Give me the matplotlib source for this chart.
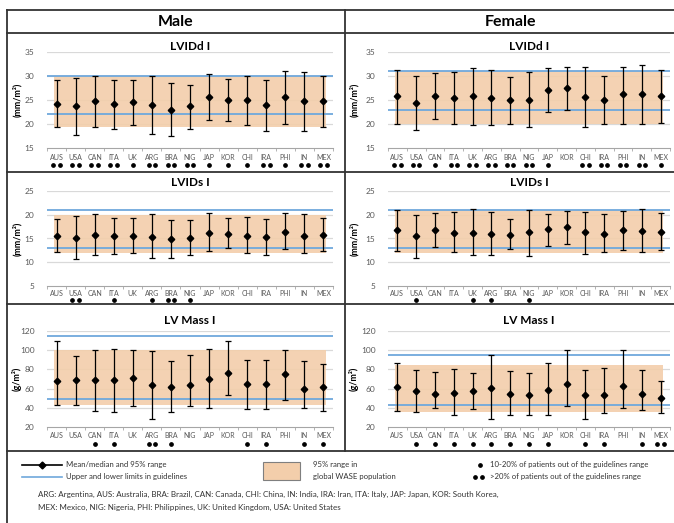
import numpy as np
import matplotlib.pyplot as plt
from matplotlib.lines import Line2D
from matplotlib.patches import Rectangle
import matplotlib.transforms as mtransforms

plt.rcParams['font.family'] = ['Lato', 'DejaVu Sans']

countries = ['AUS', 'USA', 'CAN', 'ITA', 'UK', 'ARG', 'BRA', 'NIG', 'JAP',
             'KOR', 'CHI', 'IRA', 'PHI', 'IN', 'MEX']

# Male LVIDd I (mm/m2)
m_lvidd_mean = [24.2, 23.7, 24.7, 24.2, 24.5, 24.0, 22.9, 23.7, 25.7, 25.1, 25.0, 24.0, 25.6, 24.7, 24.7]
m_lvidd_lo = [19.3, 17.7, 19.3, 19.0, 19.8, 17.9, 17.6, 19.0, 20.8, 20.6, 19.8, 18.6, 19.9, 18.6, 19.3]
m_lvidd_hi = [29.1, 29.6, 29.9, 29.2, 29.2, 29.9, 28.5, 28.2, 30.5, 29.4, 29.9, 29.1, 31.1, 30.8, 29.9]
m_lvidd_stars = [2, 2, 2, 2, 1, 2, 2, 2, 1, 1, 1, 2, 1, 2, 2]

# Female LVIDd I
f_lvidd_mean = [25.8, 24.3, 25.8, 25.5, 25.8, 25.5, 24.9, 25.1, 27.0, 27.5, 25.6, 25.1, 26.2, 26.2, 25.8]
f_lvidd_lo = [20.1, 18.8, 21.0, 19.9, 19.8, 19.7, 19.9, 19.3, 22.6, 22.9, 19.3, 20.1, 20.1, 19.9, 20.3]
f_lvidd_hi = [31.2, 29.9, 30.7, 30.9, 31.7, 31.2, 29.7, 30.9, 31.6, 31.9, 31.9, 30.0, 31.9, 32.2, 31.2]
f_lvidd_stars = [2, 2, 1, 2, 2, 2, 2, 2, 1, 0, 2, 2, 2, 2, 1]

# Male LVIDs I
m_lvids_mean = [15.6, 15.1, 15.8, 15.6, 15.6, 15.3, 14.9, 15.1, 16.2, 16.0, 15.6, 15.3, 16.4, 15.5, 15.8]
m_lvids_lo = [12.1, 10.6, 11.6, 11.8, 12.0, 10.8, 10.9, 11.6, 12.3, 13.0, 12.0, 11.6, 12.8, 12.0, 12.3]
m_lvids_hi = [19.2, 19.8, 20.1, 19.4, 19.4, 20.1, 18.9, 18.9, 20.4, 19.4, 19.6, 19.2, 20.4, 20.1, 19.4]
m_lvids_stars = [0, 2, 0, 1, 0, 1, 2, 1, 0, 0, 0, 0, 0, 0, 0]

# Female LVIDs I
f_lvids_mean = [16.7, 15.5, 16.7, 16.2, 16.2, 16.0, 15.8, 16.3, 16.9, 17.4, 16.3, 16.0, 16.7, 16.5, 16.4]
f_lvids_lo = [12.3, 10.9, 13.2, 12.2, 11.6, 11.6, 12.7, 11.3, 13.5, 13.9, 11.8, 12.1, 12.5, 12.1, 12.5]
f_lvids_hi = [21.0, 20.0, 20.3, 20.5, 21.2, 20.5, 19.0, 21.0, 20.2, 20.7, 20.5, 20.2, 20.7, 21.3, 20.3]
f_lvids_stars = [0, 1, 0, 0, 1, 1, 0, 1, 0, 0, 0, 0, 0, 0, 0]

# Male LV Mass I (g/m2)
m_mass_mean = [68, 69, 69, 69, 71.4, 63.8, 62, 63.8, 70, 76.6, 64.5, 64.5, 74.8, 59.7, 61.4]
m_mass_lo = [43, 43, 37, 36, 42, 28.3, 36, 42, 40, 53, 38.6, 38.6, 48.3, 40, 37]
m_mass_hi = [109.3, 94, 100, 101.7, 100, 99.3, 89, 95.5, 101.7, 109.7, 89.7, 90.3, 100, 89, 85.2]
m_mass_stars = [0, 0, 1, 1, 0, 2, 1, 0, 0, 0, 1, 1, 0, 1, 1]

# Female LV Mass I
f_mass_mean = [61.4, 57, 54.1, 55.2, 57.6, 60.3, 54.5, 53.4, 58.6, 64.8, 53.4, 53.1, 62.8, 54.5, 50.7]
f_mass_lo = [37, 35.2, 40.3, 32, 38.6, 28.3, 32.8, 32.8, 32, 41.4, 28.3, 34.5, 40.3, 38, 34.5]
f_mass_hi = [86.2, 79.3, 77.6, 80, 75.9, 94.5, 77.9, 75.9, 86.2, 100.7, 79.3, 81.7, 100, 79.3, 68]
f_mass_stars = [0, 1, 1, 1, 1, 1, 1, 1, 1, 0, 1, 1, 0, 1, 2]

# guideline limits and 95% WASE range (lo, hi)
m_lvidd_guide, m_lvidd_band = [22, 30], [19.3, 30]
f_lvidd_guide, f_lvidd_band = [23, 31], [20, 31]
m_lvids_guide, m_lvids_band = [13, 21], [12, 20]
f_lvids_guide, f_lvids_band = [13, 21], [12, 21]
m_mass_guide, m_mass_band = [49, 115], [43, 100]
f_mass_guide, f_mass_band = [43, 95], [36, 85]

W, H = 674, 523
BAND = '#F3CEAB'
BLUE = '#6FA8DC'
GREY = '#595959'


def fx(x):
    return x / W


def fy(y):
    return 1 - y / H


fig = plt.figure(figsize=(W / 100, H / 100), dpi=100)


def panel(x0, x1, ytop, ybot, yticks, mean, lo, hi, stars, guide, band,
          title, ylab, lab_y, star_y, title_y, ylab_x):
    ax = fig.add_axes([fx(x0), fy(ybot), fx(x1) - fx(x0), fy(ytop) - fy(ybot)])
    x = np.arange(len(countries))
    mean, lo, hi = np.array(mean), np.array(lo), np.array(hi)
    ax.set_xlim(-0.5, len(countries) - 0.5)
    ax.set_ylim(yticks[0], yticks[-1])
    for t in yticks[1:]:
        ax.axhline(t, color='#d9d9d9', lw=0.9, zorder=0)
    ax.fill_between([-0.15, len(countries) - 0.85], band[0], band[1],
                    color=BAND, lw=0, zorder=1, alpha=0.9)
    for g in guide:
        ax.axhline(g, color=BLUE, lw=1.3, zorder=2)
    ax.errorbar(x, mean, yerr=[mean - lo, hi - mean], fmt='D', color='black',
                ms=3.3, lw=0.9, capsize=2, capthick=0.9, zorder=3)
    for s in ['top', 'right', 'left']:
        ax.spines[s].set_visible(False)
    ax.spines['bottom'].set_color('#a6a6a6')
    ax.spines['bottom'].set_linewidth(0.8)
    ax.set_yticks(yticks)
    ax.tick_params(axis='y', length=0, pad=9, labelsize=6, labelcolor=GREY)
    ax.set_xticks(x)
    ax.set_xticklabels([])
    ax.set_xticks(np.arange(-0.5, len(countries)), minor=True)
    ax.tick_params(axis='x', which='major', length=0)
    ax.tick_params(axis='x', which='minor', length=2, color='#a6a6a6')
    # country labels and stars
    trans = mtransforms.blended_transform_factory(ax.transData, fig.transFigure)
    for i, c in enumerate(countries):
        ax.text(i, fy(lab_y), c, transform=trans, ha='center', va='center',
                fontsize=5, color=GREY)
        n = stars[i]
        if n == 1:
            xs = [i]
        elif n == 2:
            xs = [i - 0.17, i + 0.17]
        else:
            xs = []
        if xs:
            ax.plot(xs, [fy(star_y)] * len(xs), 'o', ms=2.4, color='black',
                    transform=trans, clip_on=False)
    fig.text(fx((x0 + x1) / 2), fy(title_y), title, ha='center', va='center',
             fontsize=8.5, fontweight='bold')
    fig.text(fx(ylab_x), fy((ytop + ybot) / 2), ylab, rotation=90,
             ha='center', va='center', fontsize=6.5, fontweight='bold')
    return ax


cols = [(47, 333, 17, 'male'), (388, 670, 354, 'female')]
rows = [
    (52, 148, [15, 20, 25, 30, 35], 'LVIDd I', '(mm/m²)', 158, 165, 46.5),
    (191, 286, [5, 10, 15, 20, 25], 'LVIDs I', '(mm/m²)', 293, 299.5, 182),
    (331, 427, [20, 40, 60, 80, 100, 120], 'LV Mass I', '(g/m²)', 436, 444, 320),
]
data = {
    ('male', 0): (m_lvidd_mean, m_lvidd_lo, m_lvidd_hi, m_lvidd_stars, m_lvidd_guide, m_lvidd_band),
    ('female', 0): (f_lvidd_mean, f_lvidd_lo, f_lvidd_hi, f_lvidd_stars, f_lvidd_guide, f_lvidd_band),
    ('male', 1): (m_lvids_mean, m_lvids_lo, m_lvids_hi, m_lvids_stars, m_lvids_guide, m_lvids_band),
    ('female', 1): (f_lvids_mean, f_lvids_lo, f_lvids_hi, f_lvids_stars, f_lvids_guide, f_lvids_band),
    ('male', 2): (m_mass_mean, m_mass_lo, m_mass_hi, m_mass_stars, m_mass_guide, m_mass_band),
    ('female', 2): (f_mass_mean, f_mass_lo, f_mass_hi, f_mass_stars, f_mass_guide, f_mass_band),
}
for x0, x1, ylx, key in cols:
    for r, (yt, yb, ticks, title, ylab, laby, stary, ty) in enumerate(rows):
        mean, lo, hi, st, gd, bd = data[(key, r)]
        panel(x0, x1, yt, yb, ticks, mean, lo, hi, st, gd, bd, title, ylab,
              laby, stary, ty, ylx)

# header
fig.text(fx(176), fy(21.5), 'Male', ha='center', va='center', fontsize=11.5, fontweight='bold')
fig.text(fx(510), fy(21.5), 'Female', ha='center', va='center', fontsize=11.5, fontweight='bold')

# frame lines
def hline(y, x0=7, x1=674, lw=1.3):
    fig.add_artist(Line2D([fx(x0), fx(x1)], [fy(y), fy(y)], color='#333333', lw=lw))


def vline(x, y0, y1, lw=1.3):
    fig.add_artist(Line2D([fx(x), fx(x)], [fy(y0), fy(y1)], color='#333333', lw=lw))


for yy in [9.5, 33, 172, 304, 451]:
    hline(yy)
vline(7, 9.5, 523)
vline(345, 9.5, 451)

# legend
fig.add_artist(Line2D([fx(22), fx(62)], [fy(465)] * 2, color='black', lw=1.2))
fig.add_artist(Line2D([fx(42)], [fy(465)], color='black', marker='D', ms=3.5))
fig.text(fx(66), fy(465), 'Mean/median and 95% range', va='center', fontsize=5.6, color='#333333')
fig.add_artist(Line2D([fx(22), fx(62)], [fy(477)] * 2, color=BLUE, lw=1.2))
fig.text(fx(66), fy(477), 'Upper and lower limits in guidelines', va='center', fontsize=5.6, color='#333333')
fig.add_artist(Rectangle((fx(263), fy(480)), fx(300) - fx(263), fy(462) - fy(480),
                         facecolor=BAND, edgecolor='#7f7f7f', lw=0.8))
fig.text(fx(313), fy(465), '95% range in', va='center', fontsize=5.6, color='#333333')
fig.text(fx(313), fy(477), 'global WASE population', va='center', fontsize=5.6, color='#333333')
fig.add_artist(Line2D([fx(480)], [fy(465)], color='black', marker='o', ms=2.4, lw=0))
fig.text(fx(490), fy(465), '10-20% of patients out of the guidelines range', va='center',
         fontsize=5.6, color='#333333')
fig.add_artist(Line2D([fx(475), fx(482)], [fy(477)] * 2, color='black', marker='o', ms=2.4, lw=0))
fig.text(fx(490), fy(477), '>20% of patients out of the guidelines range', va='center',
         fontsize=5.6, color='#333333')
fig.text(fx(38), fy(494), 'ARG: Argentina, AUS: Australia, BRA: Brazil, CAN: Canada, CHI: China, '
         'IN: India, IRA: Iran, ITA: Italy, JAP: Japan, KOR: South Korea,',
         va='center', fontsize=5.8, color='#333333')
fig.text(fx(38), fy(507), 'MEX: Mexico, NIG: Nigeria, PHI: Philippines, UK: United Kingdom, '
         'USA: United States', va='center', fontsize=5.8, color='#333333')

fig.savefig('out.png', dpi=100)
